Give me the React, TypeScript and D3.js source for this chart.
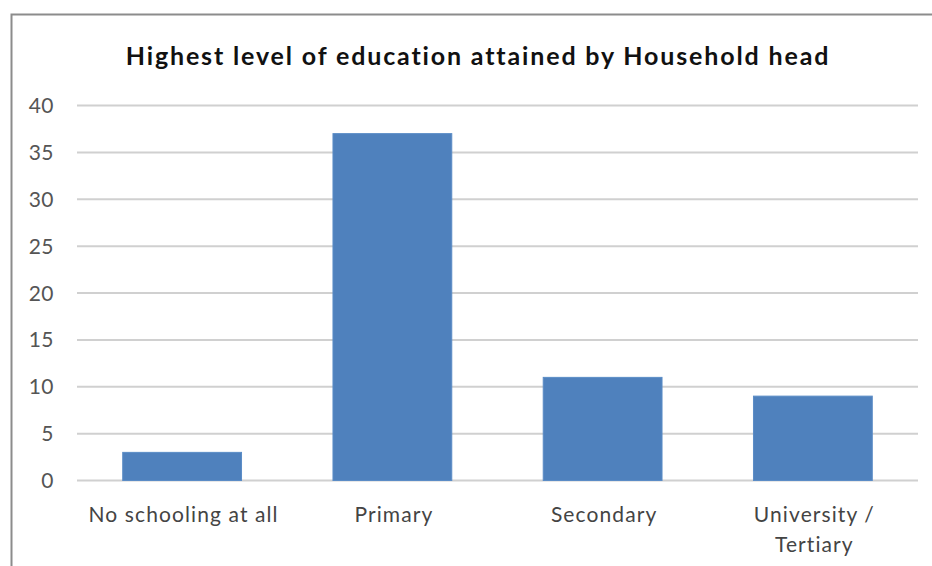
import React from "react";
import * as d3 from "d3";

const categories = ["No schooling at all", "Primary", "Secondary", "University / Tertiary"];
const categoryLines = [["No schooling at all"], ["Primary"], ["Secondary"], ["University /", "Tertiary"]];
const values = [3, 37, 11, 9];
const yTicks = [0, 5, 10, 15, 20, 25, 30, 35, 40];
const title = "Highest level of education attained by Household head";

export default function App() {
  const W = 932, H = 566;
  const x0 = 77, x1 = 918, yTop = 105.5, yBot = 480.5;
  const x = d3.scaleBand<string>().domain(categories).range([x0, x1]).paddingInner(0.435).paddingOuter(0.2175);
  const y = d3.scaleLinear().domain([0, 40]).range([yBot, yTop]);
  const font = "Lato, 'Open Sans', sans-serif";
  return (
    <svg width={W} height={H} style={{ position: "absolute", left: 0, top: 0, background: "#fff" }}>
      <rect x={11.5} y={14.5} width={940} height={600} fill="#fff" stroke="#8c8c8c" strokeWidth={2} />
      <text x={478} y={65} textAnchor="middle" fontFamily={font} fontWeight="bold" fontSize={25} letterSpacing={1.85} fill="#111">
        {title}
      </text>
      {yTicks.map((t) => (
        <g key={t}>
          <line x1={x0} x2={x1} y1={y(t)} y2={y(t)} stroke="#d0d0d0" strokeWidth={2} />
          <text x={54} y={y(t)} dy="0.36em" textAnchor="end" fontFamily={font} fontSize={21} letterSpacing={0.5} fill="#555">
            {t}
          </text>
        </g>
      ))}
      {categories.map((c, i) => (
        <rect key={c} x={x(c)} y={y(values[i])} width={x.bandwidth()} height={y(0) - y(values[i])} fill="#4f81bd" stroke="#5b8cc6" strokeWidth={1} />
      ))}
      {categories.map((c, i) => (
        <text key={c} x={(x(c) as number) + x.bandwidth() / 2} y={522} textAnchor="middle" fontFamily={font} fontSize={21} letterSpacing={1.1} fill="#444">
          {categoryLines[i].map((l, j) => (
            <tspan key={j} x={(x(c) as number) + x.bandwidth() / 2 + 1.5} dy={j === 0 ? 0 : 30}>{l}</tspan>
          ))}
        </text>
      ))}
    </svg>
  );
}
